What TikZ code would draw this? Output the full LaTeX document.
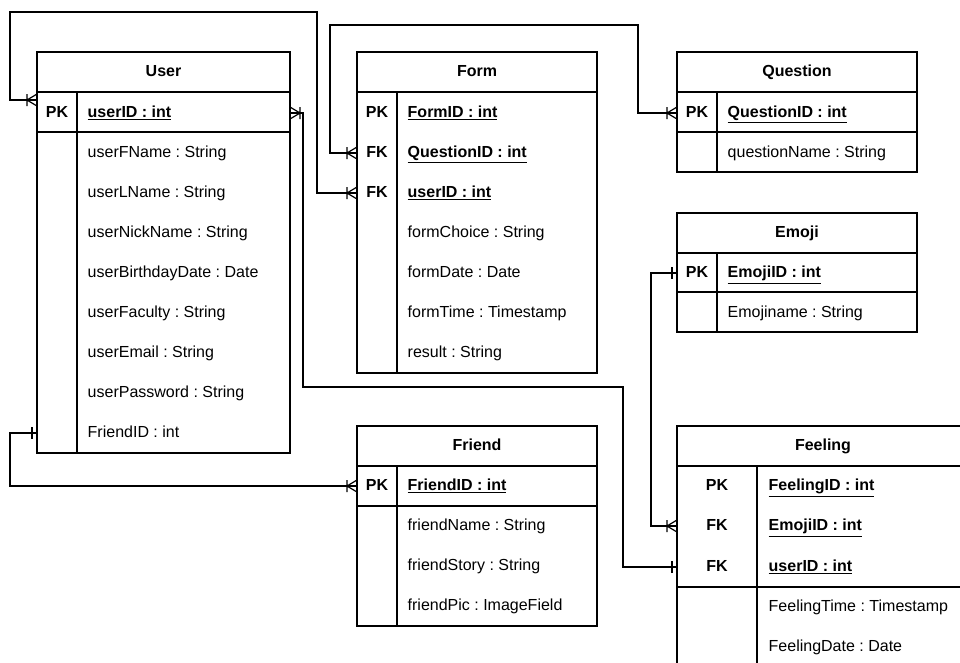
\documentclass[tikz,border=0pt]{standalone}
\usepackage{fontspec}
\setmainfont{Liberation Sans}
\frenchspacing
\newcommand{\erfont}{\fontsize{12}{14}\selectfont}
\tikzset{
  tbl/.style={line width=1pt},
  link/.style={line width=0.9pt},
  tabtitle/.style={font=\erfont\bfseries, text height=1.6ex, text depth=.3ex},
  keycell/.style={font=\erfont\bfseries, text height=1.6ex, text depth=.3ex},
  attrcell/.style={anchor=west, font=\erfont, text height=1.6ex, text depth=.3ex},
  idcell/.style={attrcell, font=\erfont\bfseries},
  many/.pic={\draw[link] (-10,-6) -- (-10,6) (-10,0) -- (0,-6) (-10,0) -- (0,6);},
  one/.pic={\draw[link] (-5,-6) -- (-5,6);},
}

\begin{document}
\begin{tikzpicture}[x=0.75pt, y=-0.75pt, font=\erfont]
        \useasboundingbox (0,0) rectangle (960,662);
        \clip (0,0) rectangle (960,662);

        % User
        \draw[tbl] (37,52) rectangle (290,453);
        \draw[tbl] (37,92) -- (290,92) (37,132) -- (290,132) (77,92) -- (77,453);
        \node[tabtitle] (user) at (163.5,72) {User};
        \node[keycell] (userpk) at (57,113) {PK};
        \node[idcell] (userid) at (83,113) {\underline{userID : int}};
        \node[attrcell] (userfname) at (83,153) {userFName : String};
        \node[attrcell] (userlname) at (83,193) {userLName : String};
        \node[attrcell] (usernick) at (83,233) {userNickName : String};
        \node[attrcell] (userbirth) at (83,273) {userBirthdayDate : Date};
        \node[attrcell] (userfac) at (83,313) {userFaculty : String};
        \node[attrcell] (usermail) at (83,353) {userEmail : String};
        \node[attrcell] (userpass) at (83,393) {userPassword : String};
        \node[attrcell] (userfriend) at (83,433) {FriendID : int};

        % Form
        \draw[tbl] (357,52) rectangle (597,373);
        \draw[tbl] (357,92) -- (597,92) (397,92) -- (397,373);
        \node[tabtitle] (form) at (477,72) {Form};
        \node[keycell] (formpk) at (377,113) {PK};
        \node[keycell] (formfkq) at (377,153) {FK};
        \node[keycell] (formfku) at (377,193) {FK};
        \node[idcell] (formid) at (403,113) {\underline{FormID : int}};
        \node[idcell] (formqid) at (403,153) {\underline{QuestionID : int}};
        \node[idcell] (formuid) at (403,193) {\underline{userID : int}};
        \node[attrcell] (formchoice) at (403,233) {formChoice : String};
        \node[attrcell] (formdate) at (403,273) {formDate : Date};
        \node[attrcell] (formtime) at (403,313) {formTime : Timestamp};
        \node[attrcell] (formresult) at (403,353) {result : String};

        % Question
        \draw[tbl] (677,52) rectangle (917,172);
        \draw[tbl] (677,92) -- (917,92) (677,132) -- (917,132) (717,92) -- (717,172);
        \node[tabtitle] (quest) at (797,72) {Question};
        \node[keycell] (questpk) at (697,113) {PK};
        \node[idcell] (questid) at (723,113) {\underline{QuestionID : int}};
        \node[attrcell] (questname) at (723,153) {questionName : String};

        % Emoji
        \draw[tbl] (677,213) rectangle (917,332);
        \draw[tbl] (677,253) -- (917,253) (677,292) -- (917,292) (717,253) -- (717,332);
        \node[tabtitle] (emoji) at (797,233) {Emoji};
        \node[keycell] (emojipk) at (697,273) {PK};
        \node[idcell] (emojiid) at (723,273) {\underline{EmojiID : int}};
        \node[attrcell] (emojiname) at (723,313) {Emojiname : String};

        % Friend
        \draw[tbl] (357,426) rectangle (597,626);
        \draw[tbl] (357,466) -- (597,466) (357,506) -- (597,506) (397,466) -- (397,626);
        \node[tabtitle] (friend) at (477,446) {Friend};
        \node[keycell] (friendpk) at (377,486) {PK};
        \node[idcell] (friendid) at (403,486) {\underline{FriendID : int}};
        \node[attrcell] (friendname) at (403,526) {friendName : String};
        \node[attrcell] (friendstory) at (403,566) {friendStory : String};
        \node[attrcell] (friendpic) at (403,606) {friendPic : ImageField};

        % Feeling
        \draw[tbl] (677,426) rectangle (969,667);
        \draw[tbl] (677,466) -- (969,466) (677,587) -- (969,587) (757,466) -- (757,667);
        \node[tabtitle] (feel) at (823,446) {Feeling};
        \node[keycell] (feelpk) at (717,486) {PK};
        \node[keycell] (feelfke) at (717,526) {FK};
        \node[keycell] (feelfku) at (717,567) {FK};
        \node[idcell] (feelid) at (764,486) {\underline{FeelingID : int}};
        \node[idcell] (feeleid) at (764,526) {\underline{EmojiID : int}};
        \node[idcell] (feeluid) at (764,567) {\underline{userID : int}};
        \node[attrcell] (feeltime) at (764,607) {FeelingTime : Timestamp};
        \node[attrcell] (feeldate) at (764,647) {FeelingDate : Date};

        % connector ends
        \coordinate (userL) at (37,100);
        \coordinate (userR) at (290,113);
        \coordinate (userF) at (37,433);
        \coordinate (formQ) at (357,153);
        \coordinate (formU) at (357,193);
        \coordinate (questL) at (677,113);
        \coordinate (emojiL) at (677,273);
        \coordinate (friendL) at (357,486);
        \coordinate (feelE) at (677,526);
        \coordinate (feelU) at (677,567);

        \draw[link] (userL) -- ++(-27,0) |- (317,12) |- (formU);
        \draw[link] (formQ) -- ++(-27,0) |- (638,25) |- (questL);
        \draw[link] (userR) -| (303,387) -| (623,567) -- (feelU);
        \draw[link] (emojiL) -- ++(-26,0) |- (feelE);
        \draw[link] (userF) -- ++(-27,0) |- (friendL);

        \pic at (userL) {many};
        \pic at (formU) {many};
        \pic at (formQ) {many};
        \pic at (questL) {many};
        \pic[rotate=180] at (userR) {many};
        \pic at (feelU) {one};
        \pic at (emojiL) {one};
        \pic at (feelE) {many};
        \pic at (userF) {one};
        \pic at (friendL) {many};
\end{tikzpicture}
\end{document}
